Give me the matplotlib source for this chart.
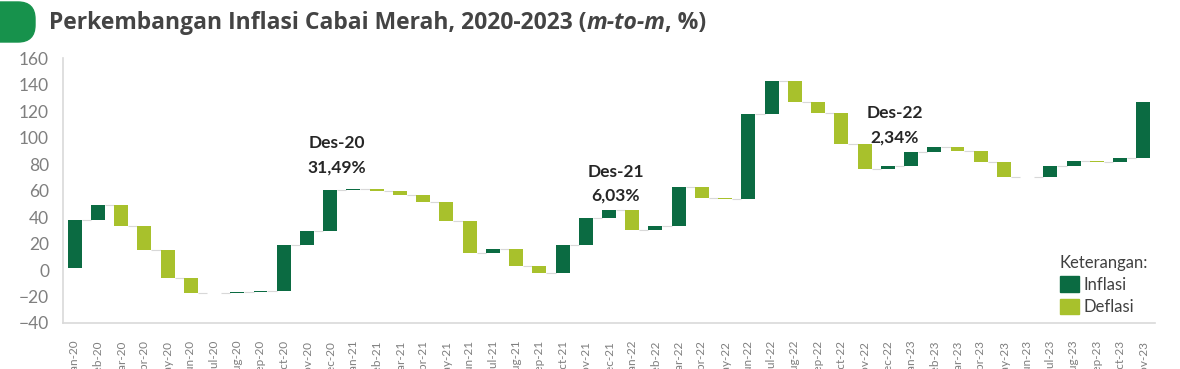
import numpy as np
import matplotlib
matplotlib.use('Agg')
import matplotlib.pyplot as plt
from matplotlib.patches import Patch, FancyBboxPatch

plt.rcParams['font.family'] = ['Lato', 'DejaVu Sans']

# Data: perubahan bulanan (m-to-m, %) yang ditumpuk sebagai waterfall
MONTHS = ['Jan', 'Feb', 'Mar', 'Apr', 'May', 'Jun',
          'Jul', 'Aug', 'Sep', 'Oct', 'Nov', 'Dec']
YEARS = ['20', '21', '22', '23']
labels = [f'{m}-{y}' for y in YEARS for m in MONTHS][:47]

start_level = 1.7
changes = [
    36.1, 11.7, -15.9, -18.7, -20.9, -11.0, -0.4, 0.5, 0.9, 34.6, 10.6, 31.49,   # 2020
    0.3, -1.2, -3.2, -4.8, -15.0, -23.9, 3.0, -12.5, -5.3, 20.5, 20.4, 6.03,      # 2021
    -15.0, 3.2, 29.3, -7.8, -1.4, 64.4, 25.0, -15.7, -8.0, -23.4, -19.4, 2.34,    # 2022
    10.4, 3.7, -3.0, -8.2, -11.1, -0.3, 8.8, 3.3, -0.2, 2.7, 42.6,                # 2023
]

notes = [('Des-20', '31,49%', 11, 96, 77.5),
         ('Des-21', '6,03%', 23, 74, 56),
         ('Des-22', '2,34%', 35, 119, 100.5)]

c_inf = '#0b6b42'
c_def = '#a8c12c'

changes = np.array(changes)
ends = start_level + np.cumsum(changes)
begins = np.concatenate([[start_level], ends[:-1]])
x = np.arange(len(changes))
colors = [c_inf if v >= 0 else c_def for v in changes]

fig = plt.figure(figsize=(11.8, 3.69), dpi=100)
ax = fig.add_axes([0.0534, 0.1247, 0.9254, 0.7173])

ax.bar(x, changes, bottom=begins, width=0.6, color=colors, zorder=3)
# garis penghubung antar batang
ax.hlines(ends[:-1], x[:-1] + 0.3, x[1:] - 0.3, color='#d8d8d8', lw=0.8, zorder=2)

ax.set_xlim(-0.5, len(changes) - 0.5)
ax.set_ylim(-40, 160)
ax.set_yticks(np.arange(-40, 161, 20))
ax.set_xticks(x)
ax.set_xticklabels(labels, rotation=90, va='top', ha='center')
ax.tick_params(axis='y', length=0, labelsize=12.5, labelcolor='#7f7f7f', pad=10)
ax.tick_params(axis='x', length=0, labelsize=8.5, labelcolor='#7f7f7f', pad=12)
for s in ['top', 'right']:
    ax.spines[s].set_visible(False)
for s in ['left', 'bottom']:
    ax.spines[s].set_color('#d9d9d9')
    ax.spines[s].set_linewidth(1.2)

for name, pct, i, y1, y2 in notes:
    ax.text(i + 0.3, y1, name, ha='center', va='center', fontsize=12.5,
            fontweight='bold', color='#262626')
    ax.text(i + 0.3, y2, pct, ha='center', va='center', fontsize=12.5,
            fontweight='bold', color='#262626')

handles = [Patch(color=c_inf, label='Inflasi'), Patch(color=c_def, label='Deflasi')]
leg = ax.legend(handles=handles, title='Keterangan:', loc='upper left',
                bbox_to_anchor=(0.905, 0.29), frameon=False, fontsize=12,
                title_fontsize=12, handlelength=1.15, handleheight=1.05,
                handletextpad=0.3, labelspacing=0.35, borderpad=0,
                alignment='left')
for t in leg.get_texts():
    t.set_color('#404040')
leg.get_title().set_color('#404040')

# judul dengan penanda hijau di kiri
pill = FancyBboxPatch((-0.2, 3.27), 0.55, 0.40, boxstyle='round,pad=0,rounding_size=0.17',
                      transform=fig.dpi_scale_trans, color='#17924c')
fig.add_artist(pill)

tfont = dict(family=['Open Sans', 'DejaVu Sans'], fontsize=16.5, fontweight='bold',
             color='#444444', va='center', ha='left')
ty = 0.938
t1 = fig.text(0.0415, ty, 'Perkembangan Inflasi Cabai Merah, 2020-2023 (', **tfont)
fig.canvas.draw()
x1 = t1.get_window_extent().x1 / fig.bbox.width
t2 = fig.text(x1, ty, 'm-to-m', style='italic', **tfont)
fig.canvas.draw()
x2 = t2.get_window_extent().x1 / fig.bbox.width
fig.text(x2, ty, ', %)', **tfont)

fig.savefig('out.png', dpi=100)
